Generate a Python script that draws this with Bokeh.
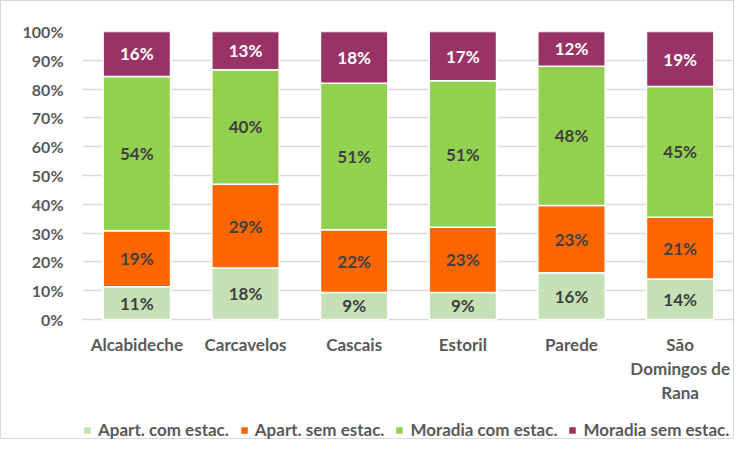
from bokeh.plotting import figure
from bokeh.models import FactorRange, Range1d, FixedTicker, NumeralTickFormatter, Legend, LegendItem, ColumnDataSource
from bokeh.core.properties import value
from bokeh.embed import file_html
from bokeh.resources import INLINE

categories = ["Alcabideche", "Carcavelos", "Cascais", "Estoril", "Parede", "São Domingos de Rana"]
category_labels = ["Alcabideche", "Carcavelos", "Cascais", "Estoril", "Parede", "São\nDomingos de\nRana"]
series = ["Apart. com estac.", "Apart. sem estac.", "Moradia com estac.", "Moradia sem estac."]
apart_com = [11.4, 17.9, 9.4, 9.4, 16.2, 14.1]
apart_sem = [19.4, 29.1, 21.8, 22.6, 23.4, 21.4]
moradia_com = [53.6, 39.7, 50.8, 50.9, 48.3, 45.4]
moradia_sem = [15.6, 13.3, 18.0, 17.1, 12.1, 19.1]
y_ticks = [0, 0.1, 0.2, 0.3, 0.4, 0.5, 0.6, 0.7, 0.8, 0.9, 1.0]

colors = ["#C5E0B4", "#FF6600", "#92D050", "#993366"]
label_colors = ["#404040", "#404040", "#404040", "#FFFFFF"]
FONT = "Lato"
GRAY = "#595959"

# layout (pixels)
W, H = 734, 439
TOP, LEFT, RIGHT, BOTTOM = 30, 81, 1, 0
PX_PER_UNIT = 288.0
frame_h = H - TOP - BOTTOM
y_min = -(frame_h - PX_PER_UNIT) / PX_PER_UNIT

values = [apart_com, apart_sem, moradia_com, moradia_sem]
keys = ["s0", "s1", "s2", "s3"]
data = {"cat": categories}
for k, v in zip(keys, values):
    data[k] = [x / 100 for x in v]
src = ColumnDataSource(data)

p = figure(x_range=FactorRange(*categories), y_range=Range1d(y_min, 1),
           width=W, height=H, output_backend="svg", toolbar_location=None,
           min_border_top=TOP, min_border_left=LEFT, min_border_right=RIGHT, min_border_bottom=BOTTOM)
p.styles = {"border": "1px solid #D9D9D9", "box-sizing": "border-box"}
p.outline_line_color = None
p.x_range.range_padding = 0

rs = p.vbar_stack(keys, x="cat", width=0.62, source=src, color=colors,
                  line_color="white", line_width=1.5)

# data labels
for i, (k, v) in enumerate(zip(keys, values)):
    bottoms = [sum(values[j][n] for j in range(i)) for n in range(len(categories))]
    mids = [(b + x / 2) / 100 for b, x in zip(bottoms, v)]
    texts = [f"{round(x)}%" for x in v]
    p.text(x=categories, y=mids, text=texts, text_align="center", text_baseline="middle",
           text_font=value(FONT), text_font_style="bold", text_font_size="17px",
           text_color=label_colors[i])

# category labels (drawn below the baseline, wrapped like the original)
p.text(x=categories, y=[-14 / PX_PER_UNIT] * len(categories), text=category_labels,
       text_align="center", text_baseline="top", text_line_height=1.16,
       text_font=value(FONT), text_font_style="bold", text_font_size="17px",
       text_color=GRAY)

# axes
p.xaxis.visible = False
p.yaxis.ticker = FixedTicker(ticks=y_ticks)
p.yaxis.formatter = NumeralTickFormatter(format="0%")
p.yaxis.axis_line_color = None
p.yaxis.major_tick_line_color = None
p.yaxis.minor_tick_line_color = None
p.yaxis.major_label_standoff = 13
p.yaxis.major_label_text_font = FONT
p.yaxis.major_label_text_font_style = "bold"
p.yaxis.major_label_text_font_size = "16px"
p.yaxis.major_label_text_color = GRAY

p.xgrid.grid_line_color = None
p.ygrid.grid_line_color = "#D9D9D9"
p.ygrid.grid_line_width = 1.5

legend = Legend(items=[LegendItem(label=s, renderers=[r]) for s, r in zip(series, rs)],
                orientation="horizontal", location=(0, 0),
                border_line_color=None, background_fill_alpha=0, padding=0, margin=0,
                spacing=10, label_standoff=6, glyph_width=10, glyph_height=10,
                label_height=14,
                label_text_font=FONT, label_text_font_style="bold",
                label_text_font_size="17px", label_text_color=GRAY)
p.add_layout(legend)

open("out.html", "w").write(file_html(p, INLINE))
